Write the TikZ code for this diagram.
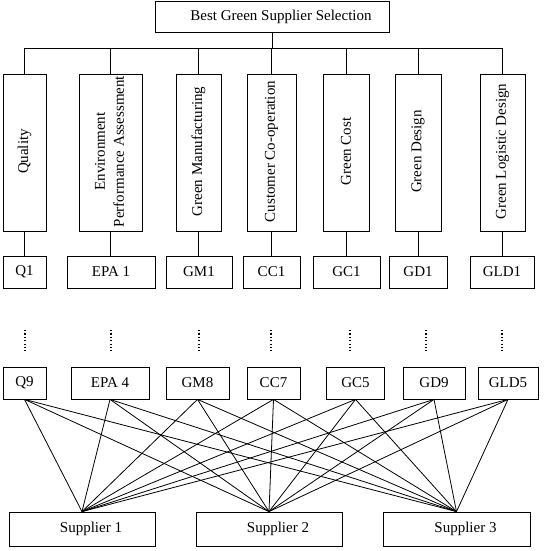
\documentclass[tikz,border=0pt]{standalone}
\usepackage{fontspec}
\setmainfont{Liberation Serif}
\begin{document}
\begin{tikzpicture}[x=1pt,y=-1pt,
  box/.style={draw, line width=0.8pt, inner sep=0pt, font=\fontsize{15}{18}\selectfont},
  colbox/.style={box, minimum height=157pt},
  rowbox/.style={box, minimum height=32pt},
  supbox/.style={box, minimum height=34pt},
  vlbl/.style={inner sep=0pt, rotate=90, align=center, font=\fontsize{15}{19}\selectfont},
  link/.style={line width=0.8pt},
  dotline/.style={line width=1.3pt, dash pattern=on 1.2pt off 2.2pt}
]
\useasboundingbox (0,0) rectangle (545,551);

% top
\node[box, minimum width=234pt, minimum height=31pt] (top) at (272,16.5) {\hspace*{18pt}Best Green Supplier Selection};
\coordinate (bar) at (272,48);

% criteria columns
\node[colbox, minimum width=43pt] (cq)   at (24.5,152.5) {};
\node[colbox, minimum width=63pt] (cepa) at (110.5,152.5) {};
\node[colbox, minimum width=45pt] (cgm)  at (198.5,152.5) {};
\node[colbox, minimum width=49pt] (ccc)  at (271.5,152.5) {};
\node[colbox, minimum width=46pt] (cgc)  at (346,152.5) {};
\node[colbox, minimum width=46pt] (cgd)  at (418,152.5) {};
\node[colbox, minimum width=45pt] (cgld) at (502.5,152.5) {};

\node[vlbl] (tq)   at ([yshift=1pt]cq.center) {Quality};
\node[vlbl] (tepa) at ([yshift=1pt,xshift=-1pt]cepa.center) {Environment\\Performance Assessment};
\node[vlbl] (tgm)  at ([yshift=1pt]cgm.center) {Green Manufacturing};
\node[vlbl] (tcc)  at ([yshift=1pt]ccc.center) {Customer Co-operation};
\node[vlbl] (tgc)  at ([yshift=1pt]cgc.center) {Green Cost};
\node[vlbl] (tgd)  at ([yshift=1pt]cgd.center) {Green Design};
\node[vlbl] (tgld) at ([yshift=1pt]cgld.center) {Green Logistic Design};

% first sub-criteria row
\node[rowbox, minimum width=43pt] (r1q)   at (24.5,272) {Q1};
\node[rowbox, minimum width=88pt] (r1epa) at (111,272) {EPA 1};
\node[rowbox, minimum width=66pt] (r1gm)  at (199,272) {GM1};
\node[rowbox, minimum width=57pt] (r1cc)  at (271.5,272) {CC1};
\node[rowbox, minimum width=67pt] (r1gc)  at (346.5,272) {GC1};
\node[rowbox, minimum width=58pt] (r1gd)  at (418,272) {GD1};
\node[rowbox, minimum width=64pt] (r1gld) at (502,272) {GLD1};

% last sub-criteria row
\node[rowbox, minimum width=43pt] (r9q)   at (24.5,383) {Q9};
\node[rowbox, minimum width=78pt] (r9epa) at (110,383) {EPA 4};
\node[rowbox, minimum width=63pt] (r9gm)  at (197.5,383) {GM8};
\node[rowbox, minimum width=53pt] (r9cc)  at (273.5,383) {CC7};
\node[rowbox, minimum width=58pt] (r9gc)  at (355.5,383) {GC5};
\node[rowbox, minimum width=62pt] (r9gd)  at (434,383) {GD9};
\node[rowbox, minimum width=60pt] (r9gld) at (508,383) {GLD5};

% suppliers
\node[supbox, minimum width=146pt] (s1) at (82,529) {\hspace*{18pt}Supplier 1};
\node[supbox, minimum width=146pt] (s2) at (269,529) {\hspace*{18pt}Supplier 2};
\node[supbox, minimum width=147pt] (s3) at (456.5,529) {\hspace*{18pt}Supplier 3};

% hierarchy connectors
\draw[link] (top.south) -- (bar);
\foreach \c in {cq,cepa,cgm,ccc,cgc,cgd,cgld}
  \draw[link] (\c.north) |- (bar);

\foreach \c/\r in {cq/r1q,cepa/r1epa,cgm/r1gm,ccc/r1cc,cgc/r1gc,cgd/r1gd,cgld/r1gld}
  \draw[link] (\c.south) -- (\c.south |- \r.north);

% ellipsis dots
\foreach \n/\x in {q/25,epa/111,gm/199,cc/271,gc/350,gd/426,gld/502}{
  \coordinate (da\n) at (\x,330);
  \coordinate (db\n) at (\x,351);
  \draw[dotline] (da\n) -- (db\n);
}

% links to suppliers
\foreach \r in {r9q,r9epa,r9gm,r9cc,r9gc,r9gd,r9gld}
  \foreach \s in {s1,s2,s3}
    \draw[link] (\r.south) -- (\s.north);
\end{tikzpicture}
\end{document}
